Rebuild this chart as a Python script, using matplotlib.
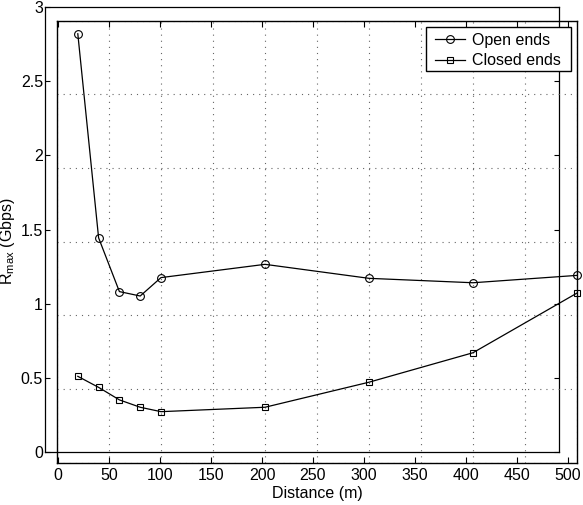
import numpy as np
import matplotlib
matplotlib.use('Agg')
import matplotlib.pyplot as plt
from matplotlib.patches import Rectangle

plt.rcParams['font.family'] = ['Liberation Sans', 'DejaVu Sans']
plt.rcParams['mathtext.fontset'] = 'custom'
plt.rcParams['mathtext.rm'] = 'Liberation Sans'
plt.rcParams['mathtext.it'] = 'Liberation Sans:italic'

# data (distance in m, rate in Gbps)
distance = [20, 40, 60, 80, 100, 200, 300, 400, 500]
open_ends = [2.91, 1.525, 1.16, 1.13, 1.255, 1.345, 1.25, 1.22, 1.27]
closed_ends = [0.585, 0.51, 0.425, 0.375, 0.345, 0.375, 0.545, 0.745, 1.15]

xticks = [0, 50, 100, 150, 200, 250, 300, 350, 400, 450, 500]
yticks = [0, 0.5, 1, 1.5, 2, 2.5, 3]
ytick_labels = ['0', '0.5', '1', '1.5', '2', '2.5', '3']

W, H = 583, 505
FS = 11.5

def box(x0, y0, x1, y1):
    # pixel box (origin top-left) -> figure fraction rect
    return [x0/W, 1-y1/H, (x1-x0)/W, (y1-y0)/H]

fig = plt.figure(figsize=(W/100, H/100), dpi=100)

# outer frame, carries the y tick labels
ax_y = fig.add_axes(box(45, 7, 559, 452))
ax_y.set_ylim(0, 3)
ax_y.set_yticks(yticks, ytick_labels)
ax_y.set_xticks([])
ax_y.tick_params(axis='y', direction='in', length=3.6, width=0.8,
                 left=True, right=True, labelsize=FS, pad=1.5)
for s in ax_y.spines.values():
    s.set_linewidth(0.9)

# inner frame: grid + data
ax = fig.add_axes(box(57, 20.5, 577, 462.5))
ax.patch.set_alpha(0)
ax.set_xlim(0, 500)
ax.set_ylim(0, 3)
ax.set_xticks(xticks)
ax.set_yticks(yticks)
ax.tick_params(length=0, labelbottom=False, labelleft=False)
ax.grid(True, color='#666666', lw=0.8, ls=(0, (1, 4.5)))
for s in ax.spines.values():
    s.set_linewidth(1.0)

ax.plot(distance, open_ends, 'k-o', mfc='none', ms=5.6, mew=0.8, lw=0.9,
        label='Open ends', clip_on=False, zorder=5)
ax.plot(distance, closed_ends, 'k-s', mfc='none', ms=4.8, mew=0.8, lw=0.9,
        label='Closed ends', clip_on=False, zorder=5)

ax.set_xlabel('Distance (m)', fontsize=FS)
ax.xaxis.set_label_coords(0.5, -0.053)
ax.set_ylabel(r'R$_{\rm max}$ (Gbps)', fontsize=FS)
ax.yaxis.set_label_coords(-0.076, 0.5)

# legend: white box drawn by hand, entries placed inside it
ax.add_patch(Rectangle((426/W, 1-71/H), 145/W, 44/H, transform=fig.transFigure,
                       facecolor='white', edgecolor='k', lw=1.0,
                       clip_on=False, zorder=9))
leg = ax.legend(loc='upper left', bbox_to_anchor=(435/W, 1-32.5/H),
                bbox_transform=fig.transFigure, borderaxespad=0,
                fontsize=FS, frameon=False, handlelength=1.875,
                handletextpad=0.42, borderpad=0, labelspacing=0.37)
leg.set_zorder(10)

# x tick labels, on their own (slightly different) scale
ax_x = fig.add_axes(box(58, 20.5, 568, 462.5))
ax_x.patch.set_alpha(0)
for s in ax_x.spines.values():
    s.set_visible(False)
ax_x.set_xlim(0, 500)
ax_x.set_xticks(xticks)
ax_x.set_yticks([])
ax_x.tick_params(axis='x', direction='in', length=4, width=0.8,
                 top=True, bottom=True, labelsize=FS, pad=4)

fig.savefig('out.png', dpi=100)
